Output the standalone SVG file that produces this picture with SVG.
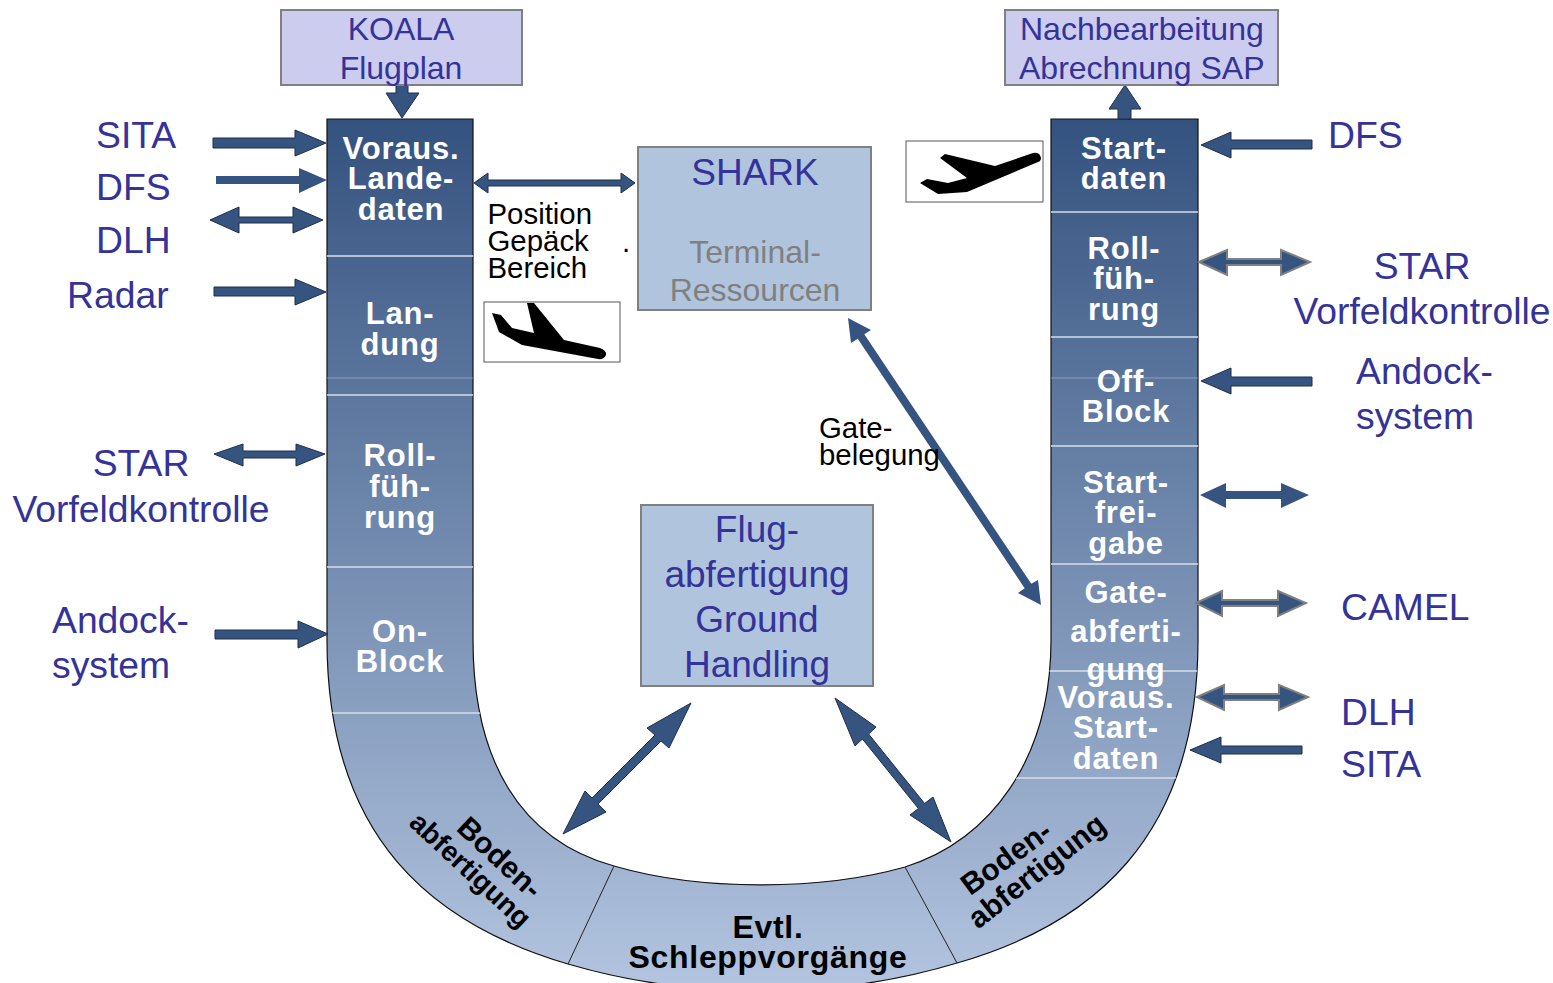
<svg xmlns="http://www.w3.org/2000/svg" xmlns:xlink="http://www.w3.org/1999/xlink" width="1553" height="983" viewBox="0 0 1553 983">
<style>
text{font-family:"Liberation Sans",Arial,sans-serif}
.b{font-size:37.3px;fill:#333399}
.c{text-anchor:middle}
.k{font-size:32px;fill:#333399}
.s{font-size:37px;fill:#333399}
.g{font-size:32px;fill:#808080}
.w{font-size:31px;font-weight:700;fill:#fff;text-anchor:middle;letter-spacing:.8px}
.d{font-size:30px;font-weight:700;fill:#000;text-anchor:middle}
.e{font-size:32px;font-weight:700;fill:#000;text-anchor:middle;letter-spacing:.7px}
.t{font-size:29.4px;fill:#000}
.box{stroke:#808080;stroke-width:2}
.a{fill:#355480;stroke:#1f2f4a;stroke-width:1}
.n{fill:#355480}
.h{fill:#355480;stroke:#808080;stroke-width:2}
.sep{stroke:#d5deeb;stroke-width:1.5}
.fa{stroke:#a9bad2;stroke-width:1;opacity:.6}
</style>
<defs>
<linearGradient id="ug" gradientUnits="userSpaceOnUse" x1="0" y1="119" x2="0" y2="985">
<stop offset="0" stop-color="#34527f"/><stop offset="1" stop-color="#b2c4df"/>
</linearGradient>
<path id="u" d="M327,119V640C327,840 435,925 568,964C690,1000 835,1000 957,963C1090,925 1198,840 1198,640V119H1051V640C1051,760 990,840 905,867C820,891 700,891 614,866C520,840 473,760 473,640V119Z"/>
<clipPath id="uc"><use xlink:href="#u"/></clipPath>
</defs>
<g id="band">
<use xlink:href="#u" fill="url(#ug)" stroke="#111" stroke-width="1.2"/>
<g clip-path="url(#uc)">
<path class="sep" d="M327,256H473M327,395H473M327,567H473M327,713H490M1051,212H1198M1051,337H1198M1051,446H1198M1051,564H1198M1040,671H1198M1015,778H1198"/>
<path class="fa" d="M327,378H473M1051,378H1198"/>
<path stroke="#222" stroke-width="1" d="M614,866L568,964M905,867L957,963"/>
</g>
</g>
<g id="connectors">
<polygon class="a" points="396,85 408,85 408,93 419,93 402,118 386,93 396,93"/>
<polygon class="a" points="213,138 295,138 295,130 326,143 295,156 295,148 213,148"/>
<polygon class="n" points="216,176 299,176 299,168 327,180 299,193 299,184 216,184"/>
<polygon class="a" points="210,220 239,207 239,217 293,217 293,207 323,220 293,233 293,223 239,223 239,233"/>
<polygon class="a" points="214,287 295,287 295,279 326,292 295,305 295,296 214,296"/>
<polygon class="a" points="214,454 243,444 243,451 296,451 296,444 325,454 296,466 296,458 243,458 243,466"/>
<polygon class="a" points="215,630 298,630 298,621 328,634 298,648 298,639 215,639"/>
<polygon class="a" points="474,183 488,173 488,180 621,180 621,173 635,183 621,193 621,186 488,186 488,193"/>
<polygon class="a" points="1125,85 1141,109 1131,109 1131,119 1118,119 1118,109 1109,109"/>
<polygon class="a" points="1201,145 1231,132 1231,140 1312,140 1312,149 1231,149 1231,158"/>
<polygon class="h" points="1199,262 1227,250 1227,259 1281,259 1281,250 1310,262 1281,275 1281,265 1227,265 1227,275"/>
<polygon class="a" points="1201,381 1231,368 1231,377 1312,377 1312,386 1231,386 1231,394"/>
<polygon class="n" points="1200,495 1226,483 1226,491 1281,491 1281,483 1309,495 1281,508 1281,499 1226,499 1226,508"/>
<polygon class="h" points="1196,603 1222,591 1222,600 1278,600 1278,591 1306,603 1278,616 1278,606 1222,606 1222,616"/>
<polygon class="h" points="1197,697 1224,685 1224,694 1279,694 1279,685 1308,697 1279,710 1279,700 1224,700 1224,710"/>
<polygon class="a" points="1190,750 1221,737 1221,746 1302,746 1302,754 1221,754 1221,763"/>
<polygon class="n" points="848,318 871,330 864.3,334.3 1031.3,583.8 1038,580 1041,605 1018,593 1024.7,588.2 857.7,338.7 851,343"/>
<polygon class="a" points="691,703 669,748 661,741 598,804 606,812 563,834 585,791 592,798 655,735 647,728"/>
<polygon class="a" points="835,698 876,727 868.6,734 924.6,803.5 933,797 951,842 910,815 918.4,808.5 862.4,739 855,746"/>
</g>
<g id="koala"><rect class="box" x="281" y="10" width="241" height="75" fill="#ccccee"/>
<text class="k c" x="401" y="40">KOALA</text><text class="k c" x="401" y="79">Flugplan</text></g>
<g id="nachbearbeitung"><rect class="box" x="1005" y="10" width="273" height="75" fill="#ccccee"/>
<text class="k" x="1020" y="40">Nachbearbeitung</text><text class="k" x="1019" y="79">Abrechnung SAP</text></g>
<g id="shark"><rect class="box" x="638" y="147" width="233" height="163" fill="#b0c4de"/>
<text class="s c" x="755" y="185">SHARK</text><text class="g c" x="755" y="263">Terminal-</text><text class="g c" x="755" y="301">Ressourcen</text></g>
<g id="flugabfertigung"><rect class="box" x="641" y="505" width="232" height="181" fill="#b0c4de"/>
<text class="s c" x="757" y="542">Flug-</text><text class="s c" x="757" y="587">abfertigung</text><text class="s c" x="757" y="632">Ground</text><text class="s c" x="757" y="677">Handling</text></g>
<g id="plane-landing"><rect x="484" y="302" width="136" height="60" fill="#fff" stroke="#555" stroke-width="1"/>
<path fill="#000" d="M492,313L501,315L512,328L534,333L527,303H534L564,340L600,348Q607,351 606,355Q604,360 598,359L522,345L499,332Z"/></g>
<g id="plane-takeoff"><rect x="906" y="141" width="137" height="61" fill="#fff" stroke="#555" stroke-width="1"/>
<path fill="#000" d="M940,158L945,154L995,166L1033,153Q1040,152 1041,158Q1041,161 1038,162L967,192L938,194L920,183L927,179L948,183L967,178Z"/></g>
<g id="labels-left">
<text class="b" x="96" y="148">SITA</text><text class="b" x="96" y="200">DFS</text><text class="b" x="96" y="253">DLH</text><text class="b" x="67" y="308">Radar</text>
<text class="b c" x="141" y="476">STAR</text><text class="b c" x="141" y="522">Vorfeldkontrolle</text>
<text class="b" x="52" y="633">Andock-</text><text class="b" x="52" y="678">system</text></g>
<g id="labels-right">
<text class="b" x="1328" y="148">DFS</text><text class="b c" x="1422" y="279">STAR</text><text class="b c" x="1422" y="324">Vorfeldkontrolle</text>
<text class="b" x="1356" y="384">Andock-</text><text class="b" x="1356" y="429">system</text>
<text class="b" x="1341" y="620">CAMEL</text><text class="b" x="1341" y="725">DLH</text><text class="b" x="1341" y="777">SITA</text></g>
<g id="notes">
<text class="t" x="487.5" y="224">Position</text><text class="t" x="487.5" y="251">Gepäck</text><text class="t" x="487.5" y="278">Bereich</text><text class="t" x="622" y="252">.</text>
<text class="t" x="819" y="438">Gate-</text><text class="t" x="819" y="465">belegung</text></g>
<g id="phase-landedaten"><text class="w" x="401" y="159">Voraus.</text><text class="w" x="401" y="189">Lande-</text><text class="w" x="401" y="220">daten</text></g>
<g id="phase-landung"><text class="w" x="400" y="324">Lan-</text><text class="w" x="400" y="355">dung</text></g>
<g id="phase-rollfuehrung-l"><text class="w" x="400" y="466">Roll-</text><text class="w" x="400" y="497">füh-</text><text class="w" x="400" y="528">rung</text></g>
<g id="phase-onblock"><text class="w" x="400" y="642">On-</text><text class="w" x="400" y="672">Block</text></g>
<g id="phase-startdaten"><text class="w" x="1124" y="159">Start-</text><text class="w" x="1124" y="189">daten</text></g>
<g id="phase-rollfuehrung-r"><text class="w" x="1124" y="259">Roll-</text><text class="w" x="1124" y="289">füh-</text><text class="w" x="1124" y="320">rung</text></g>
<g id="phase-offblock"><text class="w" x="1126" y="392">Off-</text><text class="w" x="1126" y="422">Block</text></g>
<g id="phase-startfreigabe"><text class="w" x="1126" y="493">Start-</text><text class="w" x="1126" y="523">frei-</text><text class="w" x="1126" y="554">gabe</text></g>
<g id="phase-gateabfertigung"><text class="w" x="1126" y="603">Gate-</text><text class="w" x="1126" y="642">abferti-</text><text class="w" x="1126" y="680">gung</text></g>
<g id="phase-vorausstart"><text class="w" x="1116" y="708">Voraus.</text><text class="w" x="1116" y="738">Start-</text><text class="w" x="1116" y="769">daten</text></g>
<g id="phase-boden-l"><text class="d" transform="translate(493,865) rotate(43)">Boden-</text><text class="d" style="font-size:28px" transform="translate(464,877) rotate(43)">abfertigung</text></g>
<g id="phase-schlepp"><text class="e" x="768" y="938">Evtl.</text><text class="e" x="768" y="968">Schleppvorgänge</text></g>
<g id="phase-boden-r"><text class="d" transform="translate(1012,866) rotate(-36)">Boden-</text><text class="d" transform="translate(1043,879) rotate(-38)">abfertigung</text></g>
</svg>
